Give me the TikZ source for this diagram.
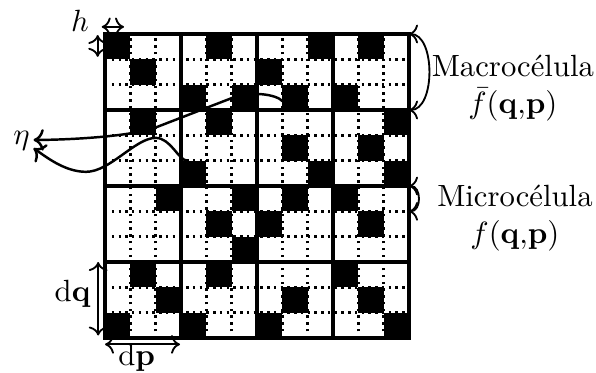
\documentclass[tikz,border=0pt]{standalone}
\usetikzlibrary{arrows.meta}
\begin{document}
\begin{tikzpicture}[x=0.29cm, y=0.29cm,
        micro/.style={line width=0.8pt, dash pattern=on 0.8pt off 1.4pt},
        macro/.style={line width=1pt},
        curva/.style={line width=0.8pt, ->},
        cota/.style={semithick, <->},
        rotulo/.style={inner sep=1pt}]
                \useasboundingbox (-4.145,-1.342) rectangle (19.38,13.342);

                \foreach \c/\r in {0/0,4/0,8/0,10/0, 1/1,6/1, 3/2,5/2,7/2,9/2,
                        1/3,4/3,11/3, 7/4,10/4, 3/5,8/5,11/5, 2/6,5/6,7/6,9/6,
                        4/7,6/7,10/7, 5/8, 1/9,4/9,9/9, 2/10,7/10,10/10,
                        0/11,3/11,6/11,11/11}
                    \fill (\c,11-\r) rectangle ++(1,1);

                \foreach \i in {1,2,4,5,7,8,10,11} {
                    \draw[micro] (\i,0) -- (\i,12);
                    \draw[micro] (0,\i) -- (12,\i);
                }
                \foreach \i in {3,6,9} {
                    \draw[macro] (\i,0) -- (\i,12);
                    \draw[macro] (0,\i) -- (12,\i);
                }
                \draw[line width=1.2pt] (0,0) rectangle (12,12);

                \node[rotulo] (h) at (-0.99,12.51) {$h$};
                \node[rotulo] (eta) at (-3.29,7.77) {$\eta$};
                \node[rotulo] (dq) at (-1.28,1.74) {$\mathrm{d}\mathbf{q}$};
                \node[rotulo] (dp) at (1.25,-0.8) {$\mathrm{d}\mathbf{p}$};
                \node[align=center] (macrotxt) at (16.1,9.86)
                    {Macrocélula\\$\bar{f}(\mathbf{q}{,}\mathbf{p})$};
                \node[align=center] (microtxt) at (16.18,4.73)
                    {Microcélula\\$f(\mathbf{q}{,}\mathbf{p})$};

                \coordinate (hA) at (-0.13,12.28);
                \coordinate (hB) at (0.75,12.28);
                \coordinate (hC) at (-0.29,11.96);
                \coordinate (hD) at (-0.29,11.1);
                \coordinate (dqA) at (-0.27,3);
                \coordinate (dqB) at (-0.27,0.1);
                \coordinate (dpA) at (0,-0.25);
                \coordinate (dpB) at (2.96,-0.25);
                \draw[cota] (hA) -- (hB);
                \draw[cota] (hC) -- (hD);
                \draw[cota] (dqA) -- (dqB);
                \draw[cota] (dpA) -- (dpB);

                \coordinate (macA) at (12,12);
                \coordinate (macB) at (12,9);
                \coordinate (micA) at (12,6);
                \coordinate (micB) at (12,5);
                \draw[cota] (macA) .. controls (13.05,12) and (13.05,9) .. (macB);
                \draw[cota] (micA) .. controls (12.5,6) and (12.5,5) .. (micB);

                \coordinate (upEnd) at (7,9.35);
                \coordinate (lowEnd) at (3.25,7);
                \draw[curva] (upEnd) .. controls (6.8,9.6) and (5.8,9.78) .. (5,9.47)
                    -- (2.05,8.33) .. controls (1.05,7.945) and (-1.5,7.82) .. ([yshift=0.4pt]eta.east);
                \draw[curva] (lowEnd) .. controls (2.9,7) and (2.6,7.9) .. (2,7.9)
                    .. controls (1.2,7.9) and (0.2,6.56) .. (-0.75,6.56)
                    .. controls (-1.6,6.56) and (-2.35,7.17) .. ([yshift=-2.3pt]eta.east);
\end{tikzpicture}
\end{document}
